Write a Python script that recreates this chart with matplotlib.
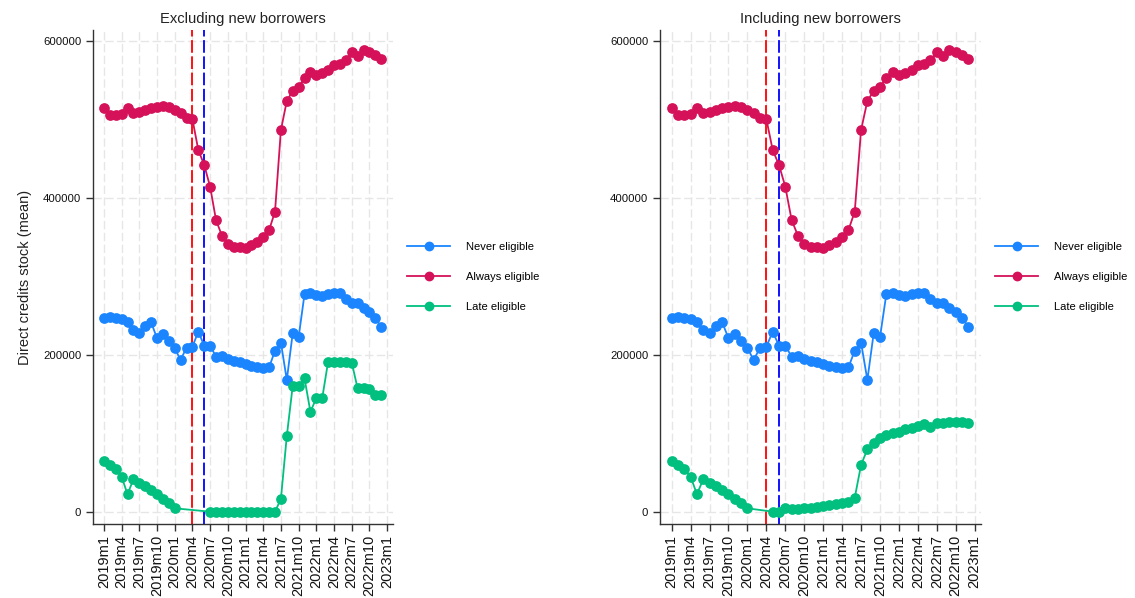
import matplotlib
matplotlib.use("Agg")
import matplotlib.pyplot as plt
import numpy as np

plt.rcParams['font.family'] = ['Liberation Sans', 'DejaVu Sans']

# ---- data ----
months = [f"{y}m{m}" for y in range(2019, 2023) for m in range(1, 13)]  # 2019m1..2022m12
tick_labels = [f"{y}m{m}" for y in range(2019, 2023) for m in (1, 4, 7, 10)] + ["2023m1"]

always_eligible = [514000, 505000, 505000, 506000, 514000, 507500, 509500, 511700,
                   514000, 515000, 517000, 516000, 511700, 507500, 502000, 500000,
                   460800, 441600, 414000, 371600, 351600, 341000, 337600, 336800,
                   336300, 339700, 344000, 349500, 358800, 382200, 486200, 523200,
                   536000, 541500, 552000, 560500, 556300, 558400, 562700, 569000,
                   570300, 575400, 585200, 580500, 588200, 585200, 581800, 576700]

never_eligible = [247100, 248400, 247100, 245100, 241300, 231500, 228100, 236600,
                  241300, 220900, 226000, 217500, 208100, 193300, 209000, 210200,
                  229300, 211500, 211500, 197500, 198300, 194100, 192000, 191100,
                  188200, 185600, 183900, 182600, 183900, 205100, 215300, 167800,
                  227300, 222200, 277000, 278200, 276100, 275200, 277000, 279000,
                  279000, 270600, 265500, 266300, 259100, 254800, 246400, 235700]

# Late eligible, excluding new borrowers (missing 2020m2-2020m6)
late_excl = [64600, 59500, 54000, 44600, 22200, 41300, 37000, 32700, 27600, 22200,
             16200, 10700, 4300,
             None, None, None, None, None,
             0, 0, 0, 0, 0, 0, 0, 0, 0, 0, 0, 0,
             16200, 96400, 160100, 160100, 169900, 127400, 144400, 144400,
             191100, 191100, 191100, 191100, 190000, 157200, 157200, 156800,
             148700, 148300]

# Late eligible, including new borrowers (missing 2020m2-2020m4)
late_incl = [64600, 59500, 54000, 44600, 22200, 41300, 37000, 32700, 27600, 22200,
             16200, 10700, 4300,
             None, None, None,
             0, 0, 4300, 3400, 3400, 4300, 5100, 6400, 7300, 8500, 9800, 11500,
             12700, 17800, 59500, 79500, 87900, 93500, 97700, 99900, 101900, 105400,
             107000, 109600, 111700, 108300, 112600, 113400, 114700, 114700, 114700,
             112600]

series_names = ["Never eligible", "Always eligible", "Late eligible"]
colors = ["#1a85ff", "#d41159", "#00bf7f"]
titles = ["Excluding new borrowers", "Including new borrowers"]
event_red = "2020m4"
event_blue = "2020m6"

# ---- figure ----
W, H = 1135, 598
fig = plt.figure(figsize=(W / 100, H / 100), dpi=100)

def fx(px):
    return px / W

def fy(py):
    return 1 - py / H

axes_px = [(93, 30, 393, 524), (660, 30, 981, 524)]
legend_x = [407, 995]

x = np.arange(len(months))

for k, (late, title) in enumerate([(late_excl, titles[0]), (late_incl, titles[1])]):
    l, t, r, b = axes_px[k]
    ax = fig.add_axes([fx(l), fy(b), fx(r) - fx(l), fy(t) - fy(b)])
    for s in ("top", "right"):
        ax.spines[s].set_visible(False)
    for s in ("left", "bottom"):
        ax.spines[s].set_color("#333333")
        ax.spines[s].set_linewidth(1.0)

    late_arr = np.array([np.nan if v is None else v for v in late], dtype=float)
    data = [np.array(never_eligible, float), np.array(always_eligible, float), late_arr]
    handles = []
    for name, col, y in zip(series_names, colors, data):
        mask = ~np.isnan(y)
        h, = ax.plot(x[mask], y[mask], color=col, lw=1.3, marker="o", ms=6.7,
                     mec=col, mfc=col, label=name, zorder=3)
        handles.append(h)

    ax.axvline(months.index(event_red), color="red", lw=1.3, ls=(0, (7, 2)), zorder=2)
    ax.axvline(months.index(event_blue), color="blue", lw=1.3, ls=(0, (7, 2)), zorder=2)

    tick_pos = np.arange(0, 49, 3)
    ax.set_xticks(tick_pos)
    ax.set_xticklabels(tick_labels, rotation=90, fontsize=10.5, color="#111111")
    ax.set_yticks([0, 200000, 400000, 600000])
    ax.set_yticklabels(["0", "200000", "400000", "600000"], fontsize=8.2, color="#111111")
    ax.tick_params(axis="both", direction="out", length=5, width=1.0, color="#333333")
    ax.tick_params(axis="x", pad=3)
    ax.set_xlim(-1.85, 49.0)
    ax.set_ylim(-15700, 613600)

    ax.grid(True, color="#e6e6e6", lw=1.0, ls=(0, (6, 2.5)), zorder=0)
    ax.set_axisbelow(True)

    ax.set_title(title, fontsize=10.6, color="#222222", pad=5)
    if k == 0:
        ax.set_ylabel("Direct credits stock (mean)", fontsize=10.5, color="#222222", labelpad=8)

    fig.legend(handles=handles, labels=series_names, loc="center left",
               bbox_to_anchor=(fx(legend_x[k]), fy(277)), frameon=False,
               fontsize=8, handlelength=3.9, handletextpad=1.4, labelspacing=1.8,
               borderpad=0, borderaxespad=0, markerscale=0.9)

fig.savefig("out.png", dpi=100)
